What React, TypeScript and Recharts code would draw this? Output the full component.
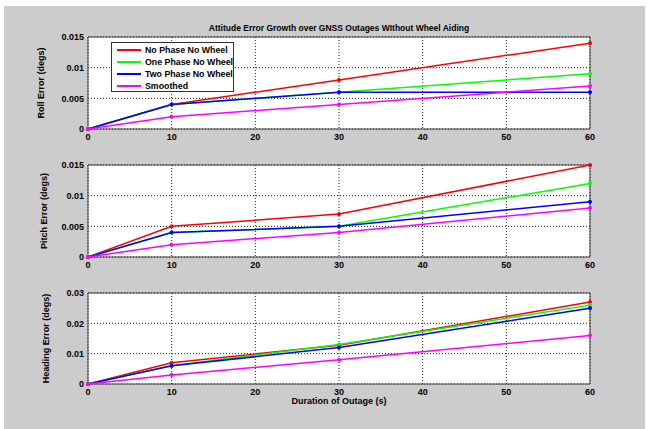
import { LineChart, Line, XAxis, YAxis, CartesianGrid, ReferenceArea } from "recharts"

const outageSec = [0, 10, 30, 60]
const xTicks = [0, 10, 20, 30, 40, 50, 60]

const seriesNames = ["No Phase No Wheel", "One Phase No Wheel", "Two Phase No Wheel", "Smoothed"]
const seriesColors = ["#ff0000", "#00ff00", "#0000ff", "#ff00ff"]

const rollNoPhase = [0, 0.004, 0.008, 0.014]
const rollOnePhase = [0, 0.004, 0.006, 0.009]
const rollTwoPhase = [0, 0.004, 0.006, 0.006]
const rollSmoothed = [0, 0.002, 0.004, 0.007]
const rollTicks = [0, 0.005, 0.01, 0.015]

const pitchNoPhase = [0, 0.005, 0.007, 0.015]
const pitchOnePhase = [0, 0.004, 0.005, 0.012]
const pitchTwoPhase = [0, 0.004, 0.005, 0.009]
const pitchSmoothed = [0, 0.002, 0.004, 0.008]
const pitchTicks = [0, 0.005, 0.01, 0.015]

const headingNoPhase = [0, 0.007, 0.0128, 0.027]
const headingOnePhase = [0, 0.006, 0.013, 0.026]
const headingTwoPhase = [0, 0.006, 0.012, 0.025]
const headingSmoothed = [0, 0.003, 0.008, 0.016]
const headingTicks = [0, 0.01, 0.02, 0.03]

const keys = ["s0", "s1", "s2", "s3"]

function buildRows(series: number[][]) {
  return outageSec.map((x, i) => {
    const row: Record<string, number> = { x }
    series.forEach((s, k) => (row[keys[k]] = s[i]))
    return row
  })
}

const FONT = "'Liberation Sans', Arial, sans-serif"
const W = 647
const PAD_TOP = 10
const X_AXIS_H = 22

type PanelProps = {
  plotTop: number
  plotBottom: number
  label: string
  ticks: number[]
  rows: Record<string, number>[]
  labelX: number
}

function Panel({ plotTop, plotBottom, label, ticks, rows, labelX }: PanelProps) {
  const plotH = plotBottom - plotTop
  const height = plotH + PAD_TOP + X_AXIS_H
  const yMax = ticks[ticks.length - 1]
  const mid = PAD_TOP + plotH / 2
  const tickStyle = { fontSize: 9, fontWeight: 700, fill: "#000", fontFamily: FONT }
  return (
    <div style={{ position: "absolute", left: 0, top: plotTop - PAD_TOP }}>
      <LineChart width={W} height={height} data={rows} margin={{ top: PAD_TOP, right: 57, bottom: 0, left: 0 }}>
        <CartesianGrid fill="#fff" stroke="#222" strokeDasharray="1 2" strokeWidth={1} />
        <XAxis
          dataKey="x"
          type="number"
          domain={[0, 60]}
          ticks={xTicks}
          height={X_AXIS_H}
          axisLine={false}
          tickLine={false}
          tickSize={0}
          tickMargin={5}
          tick={tickStyle}
        />
        <YAxis
          type="number"
          domain={[0, yMax]}
          ticks={ticks}
          width={88}
          axisLine={false}
          tickLine={false}
          tickSize={0}
          tickMargin={4}
          tick={tickStyle}
          label={{
            content: () => (
              <text
                x={labelX}
                y={mid}
                transform={`rotate(-90, ${labelX}, ${mid})`}
                textAnchor="middle"
                dominantBaseline="central"
                style={{ fontSize: 9, fontWeight: 700, fontFamily: FONT, fill: "#000" }}
              >
                {label}
              </text>
            ),
          }}
        />
        <ReferenceArea x1={0} x2={60} y1={0} y2={yMax} fill="none" stroke="#444" strokeWidth={1} ifOverflow="visible" />
        {keys.map((k, i) => (
          <Line
            key={k}
            type="linear"
            dataKey={k}
            stroke={seriesColors[i]}
            strokeWidth={1.5}
            dot={{ r: 1.6, fill: seriesColors[i], stroke: seriesColors[i], strokeWidth: 1 }}
            activeDot={false}
            isAnimationActive={false}
          />
        ))}
      </LineChart>
    </div>
  )
}

function LegendBox() {
  return (
    <div
      style={{
        position: "absolute",
        left: 111,
        top: 42,
        width: 123,
        height: 50,
        background: "#fff",
        border: "1px solid #333",
        boxSizing: "border-box",
        padding: "1px 0 0 5px",
      }}
    >
      {seriesNames.map((name, i) => (
        <div key={name} style={{ display: "flex", alignItems: "center", height: 12 }}>
          <span style={{ width: 24, height: 1.5, background: seriesColors[i], marginRight: 4 }} />
          <span style={{ fontSize: 8.8, fontWeight: 700, fontFamily: FONT, color: "#000", whiteSpace: "nowrap" }}>{name}</span>
        </div>
      ))}
    </div>
  )
}

export default function App() {
  return (
    <div style={{ position: "absolute", left: 0, top: 0, width: W, height: 429, background: "#fff", overflow: "hidden" }}>
      <div style={{ position: "absolute", left: 4, top: 6, width: 641, height: 423, background: "#cccccc" }} />
      <div
        style={{
          position: "absolute",
          left: 88,
          width: 502,
          top: 23,
          textAlign: "center",
          fontSize: 8.5,
          fontWeight: 700,
          fontFamily: FONT,
        }}
      >
        Attitude Error Growth over GNSS Outages WIthout Wheel Aiding
      </div>
      <Panel
        plotTop={37}
        plotBottom={129}
        label="Roll Error (degs)"
        ticks={rollTicks}
        rows={buildRows([rollNoPhase, rollOnePhase, rollTwoPhase, rollSmoothed])}
        labelX={41}
      />
      <Panel
        plotTop={165}
        plotBottom={257}
        label="Pitch Error (degs)"
        ticks={pitchTicks}
        rows={buildRows([pitchNoPhase, pitchOnePhase, pitchTwoPhase, pitchSmoothed])}
        labelX={44}
      />
      <Panel
        plotTop={293}
        plotBottom={384}
        label="Heading Error (degs)"
        ticks={headingTicks}
        rows={buildRows([headingNoPhase, headingOnePhase, headingTwoPhase, headingSmoothed])}
        labelX={46}
      />
      <div
        style={{
          position: "absolute",
          left: 88,
          width: 502,
          top: 396,
          textAlign: "center",
          fontSize: 9,
          fontWeight: 700,
          fontFamily: FONT,
        }}
      >
        Duration of Outage (s)
      </div>
      <LegendBox />
    </div>
  )
}
